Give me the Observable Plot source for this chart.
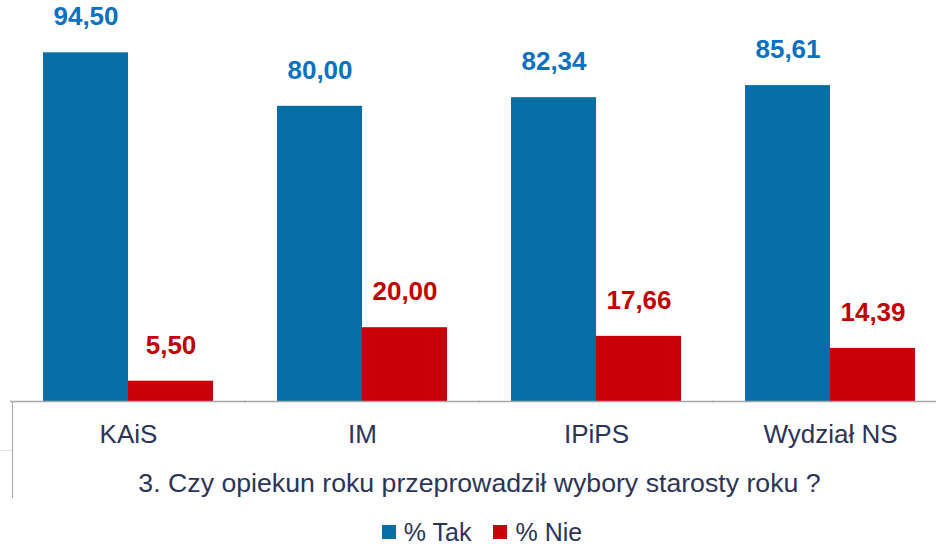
<!DOCTYPE html>
<html>
<head>
<meta charset="utf-8">
<script src="https://cdn.jsdelivr.net/npm/d3@7"></script>
<script src="https://cdn.jsdelivr.net/npm/@observablehq/plot@0.6"></script>
<style>
  html, body { margin: 0; padding: 0; background: #fff; overflow: hidden; }
  #wrap { position: relative; width: 936px; height: 547px; font-family: "Liberation Sans", Arial, sans-serif; }
  #vline { position: absolute; left: 12px; top: 401px; height: 97px; border-left: 1px solid #a6a6a6; }
  #hline { position: absolute; left: 0px; top: 450px; width: 12px; border-top: 1px solid #e3e3e3; }
  #legend { position: absolute; left: 0; top: 518px; width: 936px; height: 28px; display: flex; justify-content: center; align-items: center; padding-left: 28px; box-sizing: border-box; font-size: 25px; line-height: 26px; color: #2b3457; }
  .item { display: flex; align-items: center; margin: 0 11px; }
  .sw { width: 14px; height: 14px; margin-right: 8px; }
</style>
</head>
<body>
<div id="wrap">
  <div id="chart"></div>
  <div id="vline"></div>
  <div id="hline"></div>
  <div id="legend"></div>
</div>
<script>
const categories = ["KAiS", "IM", "IPiPS", "Wydział NS"];
const series = ["% Tak", "% Nie"];
const tak = [94.50, 80.00, 82.34, 85.61];
const nie = [5.50, 20.00, 17.66, 14.39];
const title = "3. Czy opiekun roku przeprowadził wybory starosty roku ?";

const barColors = {"% Tak": "#076ea5", "% Nie": "#c8000a"};
const labelColors = {"% Tak": "#0a70c0", "% Nie": "#c00000"};

const rows = [];
categories.forEach((c, i) => {
  rows.push({cat: c, series: series[0], value: tak[i]});
  rows.push({cat: c, series: series[1], value: nie[i]});
});
const fmt = v => v.toFixed(2).replace(".", ",");

const marks = [];
for (const s of series) {
  const d = rows.filter(r => r.series === s);
  marks.push(Plot.barY(d, {fx: "cat", x: "series", y: "value", fill: barColors[s]}));
  marks.push(Plot.text(d, {fx: "cat", x: "series", y: "value", text: r => fmt(r.value), dy: -36,
    fill: labelColors[s], fontSize: 26, fontWeight: "bold"}));
}
marks.push(Plot.ruleY([0], {stroke: "#a6a6a6", strokeWidth: 1.5, insetLeft: -33, insetRight: -33}));
marks.push(Plot.axisFx({anchor: "bottom", tickSize: 0, tickPadding: 23, fontSize: 26, fill: "#2b3457",
  label: title, labelAnchor: "center", labelOffset: 90}));

const chart = Plot.plot({
  width: 936,
  height: 510,
  marginTop: 32,
  marginBottom: 109,
  marginLeft: 11,
  marginRight: -11,
  style: {fontFamily: "'Liberation Sans', Arial, sans-serif", color: "#2b3457", background: "transparent", overflow: "visible"},
  fx: {domain: categories, paddingInner: 0.2735, paddingOuter: 0.1368, round: false, label: title},
  x: {domain: series, padding: 0, round: false, axis: null},
  y: {domain: [0, 100], axis: null},
  marks
});
// slightly larger font for the axis title
d3.select(chart).selectAll("text").filter(function() { return this.textContent === title; })
  .attr("font-size", 26.7).style("font-size", "26.7px");
document.getElementById("chart").appendChild(chart);

const legend = d3.select("#legend");
for (const s of series) {
  const it = legend.append("div").attr("class", "item");
  it.append("div").attr("class", "sw").style("background", barColors[s]);
  it.append("span").text(s);
}
</script>
</body>
</html>
